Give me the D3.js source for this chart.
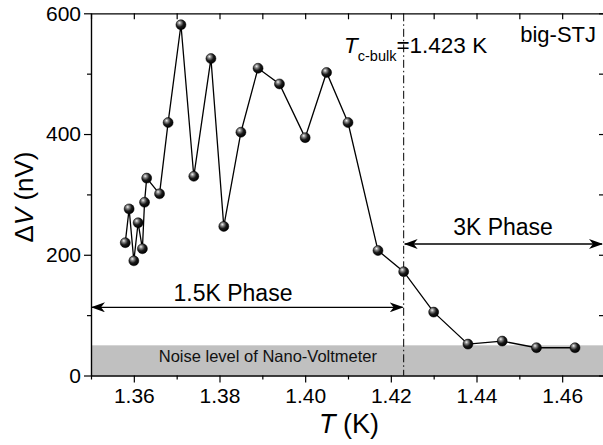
<!DOCTYPE html>
<html>
<head>
<meta charset="utf-8">
<script src="https://cdn.jsdelivr.net/npm/d3@7"></script>
<style>
  html, body { margin: 0; padding: 0; background: #fff; }
  svg { display: block; font-family: "Liberation Sans", Arial, sans-serif; }
</style>
</head>
<body>
<svg id="chart" width="603" height="445"></svg>
<script>
// Temperature (K) and voltage difference (nV)
const temperature = [1.358, 1.3589, 1.360, 1.361, 1.362, 1.3625, 1.363, 1.366, 1.368, 1.371,
  1.374, 1.378, 1.381, 1.385, 1.389, 1.394, 1.400, 1.405, 1.410, 1.417,
  1.423, 1.430, 1.438, 1.446, 1.454, 1.463];
const deltaV = [220, 276, 190, 253, 210, 287, 327, 301, 419, 581,
  330, 525, 247, 403, 509, 483, 394, 502, 419, 207,
  172, 105, 52, 57, 46, 46];

const xTicks = [1.36, 1.38, 1.40, 1.42, 1.44, 1.46];
const xMinorTicks = [1.35, 1.37, 1.39, 1.41, 1.43, 1.45, 1.47];
const yTicks = [0, 200, 400, 600];
const yMinorTicks = [100, 300, 500];

const xDomain = [1.35, 1.47];
const yDomain = [0, 600];
const noiseLevel = 50;
const tcBulk = 1.423;
const phase15Range = [1.35, 1.423];
const phase3Range = [1.423, 1.47];

const svg = d3.select("#chart");
const plotLeft = 91, plotRight = 605, plotTop = 13.3, plotBottom = 375.5;

const x = d3.scaleLinear().domain(xDomain).range([plotLeft, plotRight]);
const y = d3.scaleLinear().domain(yDomain).range([plotBottom, plotTop]);

// sphere-like marker shading
const defs = svg.append("defs");
const grad = defs.append("radialGradient").attr("id", "ball")
  .attr("cx", "0.38").attr("cy", "0.35").attr("r", "0.65")
  .attr("fx", "0.35").attr("fy", "0.3");
grad.append("stop").attr("offset", "0").attr("stop-color", "#f4f4f4");
grad.append("stop").attr("offset", "0.25").attr("stop-color", "#8a8a8a");
grad.append("stop").attr("offset", "0.6").attr("stop-color", "#1a1a1a");
grad.append("stop").attr("offset", "1").attr("stop-color", "#000");

defs.append("marker").attr("id", "arrowHead")
  .attr("viewBox", "0 0 14 10").attr("refX", 13).attr("refY", 5)
  .attr("markerWidth", 14).attr("markerHeight", 10)
  .attr("markerUnits", "userSpaceOnUse").attr("orient", "auto-start-reverse")
  .append("path").attr("d", "M0,0 L14,5 L0,10 L4,5 Z").attr("fill", "#000");

// noise band
svg.append("rect")
  .attr("x", x(xDomain[0])).attr("y", y(noiseLevel))
  .attr("width", x(xDomain[1]) - x(xDomain[0]))
  .attr("height", y(0) - y(noiseLevel))
  .attr("fill", "#c0c0c0");

svg.append("text")
  .attr("x", x(1.3913)).attr("y", y(noiseLevel / 2) + 1.5)
  .attr("text-anchor", "middle").attr("font-size", 16.5).attr("fill", "#111")
  .text("Noise level of Nano-Voltmeter");

// axes
const axisStyle = g => {
  g.selectAll("path, line").attr("stroke", "#000").attr("stroke-width", 1.2);
  g.selectAll("text").attr("fill", "#000").attr("font-size", 21)
    .attr("font-family", "Liberation Sans, Arial, sans-serif");
};

svg.append("g").attr("transform", `translate(0,${plotBottom})`)
  .call(d3.axisBottom(x).tickValues(xTicks).tickFormat(d3.format(".2f"))
    .tickSize(7).tickSizeOuter(0).tickPadding(6))
  .call(axisStyle);
svg.append("g").attr("transform", `translate(0,${plotBottom})`)
  .call(d3.axisBottom(x).tickValues(xMinorTicks).tickFormat("").tickSize(4).tickSizeOuter(0))
  .call(axisStyle);

svg.append("g").attr("transform", `translate(0,${plotTop})`)
  .call(d3.axisTop(x).tickValues(xTicks.concat(xMinorTicks)).tickFormat("")
    .tickSize(-6).tickSizeOuter(0))
  .call(axisStyle);

svg.append("g").attr("transform", `translate(${plotLeft},0)`)
  .call(d3.axisLeft(y).tickValues(yTicks).tickSize(7).tickSizeOuter(0).tickPadding(3))
  .call(axisStyle);
svg.append("g").attr("transform", `translate(${plotLeft},0)`)
  .call(d3.axisLeft(y).tickValues(yMinorTicks).tickFormat("").tickSize(4).tickSizeOuter(0))
  .call(axisStyle);

svg.append("g").attr("transform", `translate(${plotRight},0)`)
  .call(d3.axisRight(y).tickValues(yTicks.concat(yMinorTicks)).tickFormat("")
    .tickSize(-6).tickSizeOuter(0))
  .call(axisStyle);

// bulk critical temperature
svg.append("line")
  .attr("x1", x(tcBulk)).attr("x2", x(tcBulk))
  .attr("y1", y(600)).attr("y2", y(0))
  .attr("stroke", "#000").attr("stroke-width", 1)
  .attr("stroke-dasharray", "8,3,1.5,3");

// phase arrows
svg.append("line")
  .attr("x1", x(phase15Range[0]) + 1).attr("x2", x(phase15Range[1]) - 1)
  .attr("y1", 307.3).attr("y2", 307.3)
  .attr("stroke", "#000").attr("stroke-width", 1.3)
  .attr("marker-start", "url(#arrowHead)").attr("marker-end", "url(#arrowHead)");
svg.append("text").attr("x", 233).attr("y", 301)
  .attr("text-anchor", "middle").attr("font-size", 23).text("1.5K Phase");

svg.append("line")
  .attr("x1", x(phase3Range[0]) + 1).attr("x2", 602)
  .attr("y1", 244).attr("y2", 244)
  .attr("stroke", "#000").attr("stroke-width", 1.3)
  .attr("marker-start", "url(#arrowHead)").attr("marker-end", "url(#arrowHead)");
svg.append("text").attr("x", 503).attr("y", 235)
  .attr("text-anchor", "middle").attr("font-size", 23).text("3K Phase");

// data line and markers
const line = d3.line().x((d, i) => x(temperature[i])).y(d => y(d));
svg.append("path").datum(deltaV)
  .attr("d", line).attr("fill", "none")
  .attr("stroke", "#000").attr("stroke-width", 1.3);

svg.append("g").selectAll("circle").data(deltaV).join("circle")
  .attr("cx", (d, i) => x(temperature[i])).attr("cy", d => y(d))
  .attr("r", 5).attr("fill", "url(#ball)")
  .attr("stroke", "#000").attr("stroke-width", 0.5);

// annotations
const tc = svg.append("text").attr("x", 344).attr("y", 53).attr("font-size", 22.5);
tc.append("tspan").attr("font-style", "italic").text("T");
tc.append("tspan").attr("font-size", 14.5).attr("dy", 8).text("c-bulk");
tc.append("tspan").attr("dy", -8).text("=1.423 K");

svg.append("text").attr("x", 596).attr("y", 42).attr("text-anchor", "end")
  .attr("font-size", 22).text("big-STJ");

// axis titles
const xt = svg.append("text").attr("x", 349).attr("y", 433)
  .attr("text-anchor", "middle").attr("font-size", 27);
xt.append("tspan").attr("font-style", "italic").text("T");
xt.append("tspan").text(" (K)");

const yt = svg.append("text").attr("transform", "translate(33,197) rotate(-90)")
  .attr("text-anchor", "middle").attr("font-size", 26);
yt.append("tspan").text("Δ");
yt.append("tspan").attr("font-style", "italic").text("V");
yt.append("tspan").text(" (nV)");
</script>
</body>
</html>
